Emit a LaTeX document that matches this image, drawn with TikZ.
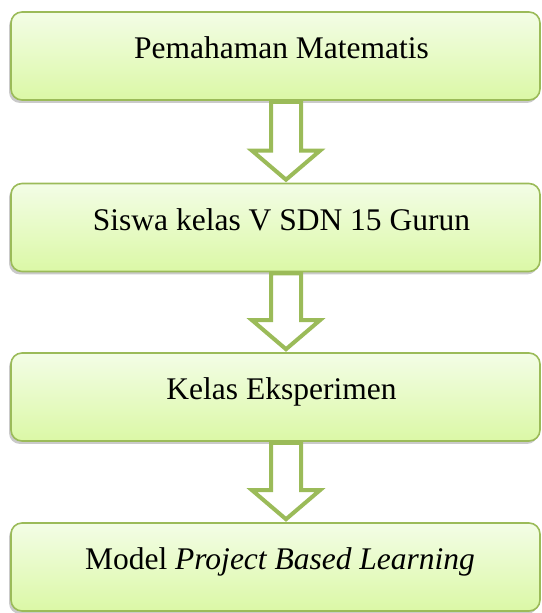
\documentclass[tikz,border=0pt]{standalone}
\usepackage{fontspec}
\setmainfont{Liberation Serif}
\usetikzlibrary{shadows,calc}
\definecolor{olivegrn}{HTML}{9BBB59}
\definecolor{gtop}{HTML}{F3FDE6}
\definecolor{gbot}{HTML}{DBF8A6}
\tikzset{
  flowbox/.style={draw=olivegrn, line width=1.6pt, rounded corners=11pt,
    top color=gtop, bottom color=gbot,
    drop shadow={shadow xshift=-2pt, shadow yshift=-3pt, fill=black!60, opacity=0.35},
    minimum width=529pt, inner sep=0pt, text height=47pt, text depth=41pt,
    font=\fontsize{31.5}{36}\selectfont},
  hollowarrow/.style={draw=olivegrn, line width=4pt, fill=white, line join=miter}
}
\begin{document}
\begin{tikzpicture}[x=1pt,y=1pt]
\useasboundingbox (0,0) rectangle (541,613);
\node[flowbox] (a) at (275.5,557) {\hspace*{12pt}Pemahaman Matematis};
\node[flowbox] (b) at (275.5,385.5) {\hspace*{12pt}Siswa kelas V SDN 15 Gurun};
\node[flowbox] (c) at (275.5,216) {\hspace*{12pt}Kelas Eksperimen};
\node[flowbox] (d) at (275.5,46) {\hspace*{9pt}Model \textit{Project Based Learning}};
\foreach \u/\v in {a/b, b/c, c/d}{
  \coordinate (t) at ($(\u.south)+(10.5,-1)$);
  \coordinate (h) at ($(\v.north)+(10.5,3)$);
  \draw[hollowarrow] ($(t)+(-15,0)$) -- ($(h)+(-15,29)$) -- ($(h)+(-34,29)$) -- (h)
     -- ($(h)+(34,29)$) -- ($(h)+(15,29)$) -- ($(t)+(15,0)$) -- cycle;
}
\end{tikzpicture}
\end{document}
